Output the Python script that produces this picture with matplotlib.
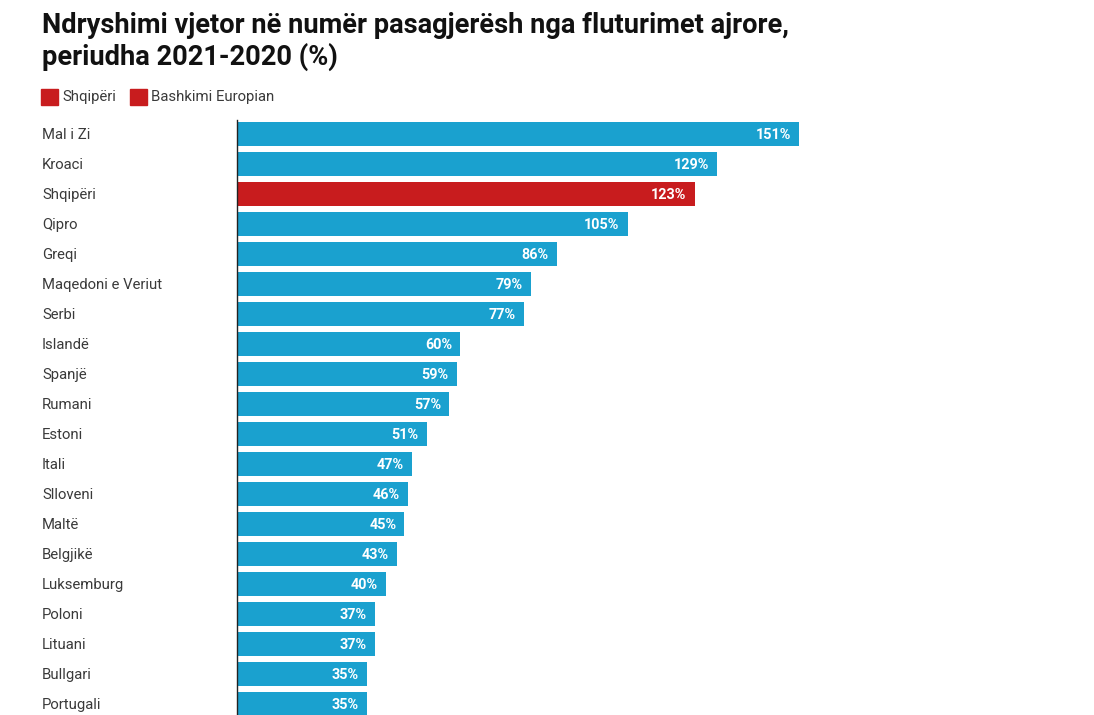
import matplotlib.pyplot as plt
from matplotlib.patches import Rectangle

plt.rcParams['font.family'] = ['Roboto', 'DejaVu Sans']

countries = ["Mal i Zi", "Kroaci", "Shqipëri", "Qipro", "Greqi", "Maqedoni e Veriut",
             "Serbi", "Islandë", "Spanjë", "Rumani", "Estoni", "Itali", "Slloveni",
             "Maltë", "Belgjikë", "Luksemburg", "Poloni", "Lituani", "Bullgari", "Portugali"]
values = [151, 129, 123, 105, 86, 79, 77, 60, 59, 57, 51, 47, 46, 45, 43, 40, 37, 37, 35, 35]
highlight = "Shqipëri"
legend_labels = ["Shqipëri", "Bashkimi Europian"]
title_lines = ["Ndryshimi vjetor në numër pasagjerësh nga fluturimet ajrore,",
               "periudha 2021-2020 (%)"]

BLUE = "#1aa1cf"
RED = "#c81c1e"

W, H = 1094, 715
fig = plt.figure(figsize=(W / 100, H / 100), dpi=100)

# axes placed in pixel terms: left edge at x=237, top at y=120, runs off the bottom
left, right, top, bottom = 237, 1060, 120, 715
ax = fig.add_axes([left / W, 1 - bottom / H, (right - left) / W, (bottom - top) / H])

px_per_unit = (799 - 237) / 151
ax.set_xlim(0, (right - left) / px_per_unit)
ax.set_ylim(19 + 11 / 30, -14 / 30)

colors = [RED if c == highlight else BLUE for c in countries]
ypos = list(range(len(countries)))
ax.barh(ypos, values, height=0.83, color=colors)

for y, v, c in zip(ypos, values, countries):
    ax.text(v - 2.2, y + 0.03, f"{v}%", ha="right", va="center", color="white",
            fontsize=10.4, fontweight="bold")
    ax.text(-(237 - 42) / px_per_unit, y + 0.03, c, ha="left", va="center",
            color="#3a3a3a", fontsize=10.7)

for s in ["top", "right", "bottom"]:
    ax.spines[s].set_visible(False)
ax.spines["left"].set_color("#222222")
ax.spines["left"].set_linewidth(1)
ax.set_xticks([])
ax.set_yticks([])

# title, one line at a time so baselines sit where they should
for i, line in enumerate(title_lines):
    fig.text(42 / W, 1 - (33 + 32 * i) / H, line, ha="left", va="baseline",
             fontsize=19.6, fontweight="bold", color="#111111")

# legend
x = 41
for lab in legend_labels:
    fig.patches.append(Rectangle((x / W, 1 - 105 / H), 17 / W, 16 / H,
                                 transform=fig.transFigure, color=RED))
    fig.text((x + 21) / W, 1 - 97 / H, lab, ha="left", va="center",
             fontsize=10.7, color="#3a3a3a")
    x += 89

fig.savefig("out.png", dpi=100)
